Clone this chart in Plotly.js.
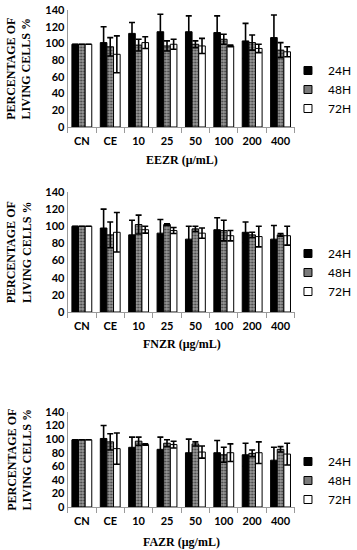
<!DOCTYPE html>
<html>
<head>
<meta charset="utf-8">
<script src="https://cdn.plot.ly/plotly-3.0.1.min.js"></script>
<style>html,body{margin:0;padding:0;background:#fff;}#chart{width:357px;height:550px;}</style>
</head>
<body>
<div id="chart"></div>
<script>
var categories = ["CN", "CE", "10", "25", "50", "100", "200", "400"];
var seriesNames = ["24H", "48H", "72H"];
var yTicks = [0, 20, 40, 60, 80, 100, 120, 140];

// Panel 1: EEZR
var eezr24 = [99, 101, 112, 114, 114, 113, 103, 107];
var eezr24Err = [0, 19, 13, 21, 19, 20, 21, 27];
var eezr48 = [99, 96, 98, 97, 99, 105, 101, 92];
var eezr48Err = [0, 11, 7, 6, 4, 6, 9, 9];
var eezr72 = [99, 87, 101, 99, 97, 97, 94, 90];
var eezr72Err = [0, 22, 7, 6, 9, 1, 5, 6];

// Panel 2: FNZR
var fnzr24 = [100, 98, 90, 92, 85, 96, 93, 85];
var fnzr24Err = [0, 22, 17, 16, 15, 14, 12, 16];
var fnzr48 = [100, 90, 102, 102, 97, 95, 90, 90];
var fnzr48Err = [0, 15, 11, 1, 3, 12, 3, 1.5];
var fnzr72 = [100, 93, 96, 95, 92, 89, 88, 89];
var fnzr72Err = [0, 23, 4, 3.5, 6, 6, 12, 11];

// Panel 3: FAZR
var fazr24 = [99, 101, 88, 85, 80, 80, 77, 69];
var fazr24Err = [0, 19, 15, 18, 20, 18, 17, 19];
var fazr48 = [99, 96, 97, 94, 93, 77, 79, 85];
var fazr48Err = [0, 12, 6, 5, 3, 11, 5, 4];
var fazr72 = [99, 86, 92, 92, 81, 80, 80, 78];
var fazr72Err = [0, 23, 1, 5, 9, 13, 16, 16];

var xTitles = ["EEZR (\u03bc/mL)", "FNZR (\u03bcg/mL)", "FAZR (\u03bcg/mL)"];
var yTitle = "PERCENTAGE OF<br>LIVING CELLS %";

var W = 357, H = 550;
function px(x) { return x / W; }
function py(y) { return 1 - y / H; }

var panels = [
  {v: [eezr24, eezr48, eezr72], e: [eezr24Err, eezr48Err, eezr72Err], top: 10, bot: 127, legY: 69},
  {v: [fnzr24, fnzr48, fnzr72], e: [fnzr24Err, fnzr48Err, fnzr72Err], top: 192, bot: 312, legY: 252},
  {v: [fazr24, fazr48, fazr72], e: [fazr24Err, fazr48Err, fazr72Err], top: 412, bot: 507, legY: 460}
];

var styles = [
  {color: "#000000", legColor: "#000000", pattern: null},
  {color: "#8c8c8c", legColor: "#7a7a7a", pattern: {shape: ".", bgcolor: "#9a9a9a", fgcolor: "#3c3c3c", size: 3, solidity: 0.35}},
  {color: "#ffffff", legColor: "#ffffff", pattern: null}
];

var traces = [];
var layout = {
  width: W, height: H,
  margin: {l: 0, r: 0, t: 0, b: 0},
  paper_bgcolor: "#ffffff", plot_bgcolor: "#ffffff",
  barmode: "group", bargap: 0.3, bargroupgap: 0,
  font: {family: "Lato, 'Liberation Sans', sans-serif", color: "#000"},
  annotations: []
};

var axisDomainX = [px(70), px(305)];

panels.forEach(function (p, i) {
  var n = i + 1;
  var xa = n === 1 ? "x" : "x" + n;
  var ya = n === 1 ? "y" : "y" + n;
  var leg = n === 1 ? "legend" : "legend" + n;
  for (var s = 0; s < 3; s++) {
    var marker = {color: styles[s].color, line: {color: "#000", width: 1}};
    if (styles[s].pattern) marker.pattern = styles[s].pattern;
    traces.push({
      type: "bar", x: categories, y: p.v[s], name: seriesNames[s],
      xaxis: xa, yaxis: ya, showlegend: false, marker: marker,
      error_y: {type: "data", array: p.e[s], visible: true, color: "#000", thickness: 1.6, width: 3},
      hoverinfo: "skip"
    });
  }
  // legend-only keys (no data drawn)
  for (var k = 0; k < 3; k++) {
    traces.push({
      type: "scatter", mode: "markers", x: [null], y: [null], name: seriesNames[k],
      xaxis: xa, yaxis: ya, legend: leg, showlegend: true,
      marker: {symbol: "square", size: 8, color: styles[k].legColor, line: {color: "#000", width: 1}},
      hoverinfo: "skip"
    });
  }
  layout["xaxis" + (n === 1 ? "" : n)] = {
    domain: axisDomainX, anchor: ya, type: "category",
    showline: true, linecolor: "#9a9a9a", linewidth: 1,
    ticks: "outside", tickson: "boundaries", ticklen: 5, tickcolor: "#9a9a9a",
    ticklabelstandoff: 4, tickangle: 0,
    showgrid: false, zeroline: false,
    tickfont: {family: "Lato, 'Liberation Sans', sans-serif", size: 11, weight: "bold", color: "#000"}
  };
  layout["yaxis" + (n === 1 ? "" : n)] = {
    domain: [py(p.bot), py(p.top)], anchor: xa,
    range: [0, 140], tickvals: yTicks, ticktext: yTicks.map(String),
    showline: true, linecolor: "#9a9a9a", linewidth: 1,
    ticks: "", showgrid: false, zeroline: false,
    tickfont: {family: "Lato, 'Liberation Sans', sans-serif", size: 11, weight: "bold", color: "#000"}
  };
  layout[leg] = {
    x: px(298), y: py(p.legY - 13), xanchor: "left", yanchor: "top",
    bgcolor: "rgba(0,0,0,0)", borderwidth: 0,
    font: {family: "Lato, 'Liberation Sans', sans-serif", size: 12, color: "#000"},
    tracegroupgap: 0, itemclick: false
  };
  layout.annotations.push({
    text: yTitle, xref: "paper", yref: "paper",
    x: px(20), y: py((p.top + p.bot) / 2), xanchor: "center", yanchor: "middle",
    textangle: -90, showarrow: false,
    font: {family: "'Liberation Serif', 'Times New Roman', serif", size: 12, weight: "bold", color: "#000"}
  });
  var xtY = [160, 344, 542][i];
  layout.annotations.push({
    text: xTitles[i], xref: "paper", yref: "paper",
    x: px(188), y: py(xtY), xanchor: "center", yanchor: "middle",
    showarrow: false,
    font: {family: "'Liberation Serif', 'Times New Roman', serif", size: 12, weight: "bold", color: "#000"}
  });
});

Plotly.newPlot("chart", traces, layout, {staticPlot: true, displayModeBar: false});
</script>
</body>
</html>
